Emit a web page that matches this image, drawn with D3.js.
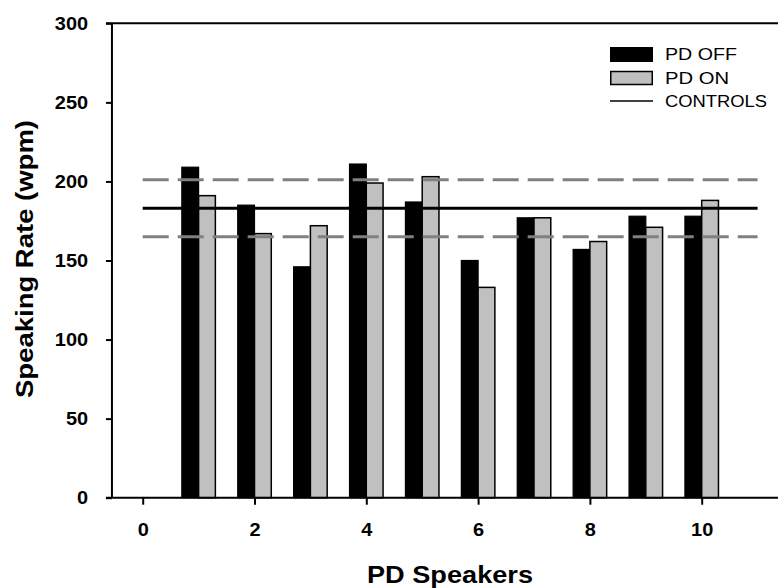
<!DOCTYPE html>
<html><head><meta charset="utf-8">
<script src="https://cdn.jsdelivr.net/npm/d3@7"></script>
<style>body{margin:0;background:#fff}svg{display:block}text{font-family:"Liberation Sans",Arial,sans-serif}</style>
</head><body>
<script>
const speakers = [1,2,3,4,5,6,7,8,9,10];
const pdOff = [209, 185, 146, 211, 187, 150, 177, 157, 178, 178];
const pdOn  = [191, 167, 172, 199, 203, 133, 177, 162, 171, 188];
const controlsMean = 183;
const controlsUpper = 201;
const controlsLower = 165;
const xTicks = [0,2,4,6,8,10];
const yTicks = [0,50,100,150,200,250,300];
const legendItems = ["PD OFF","PD ON","CONTROLS"];

const W = 778, H = 588;
const svg = d3.select("body").append("svg").attr("width", W).attr("height", H);
const x = d3.scaleLinear().domain([0,10]).range([142.7,701.7]);
const y = d3.scaleLinear().domain([0,300]).range([497.7,23.3]);
const barW = 0.3;
const xL = -0.55, xR = 11.4;

// bars
svg.append("g").selectAll("rect").data(speakers).join("rect")
  .attr("x", (d)=>x(d-barW)).attr("width", x(barW)-x(0))
  .attr("y", (d,i)=>y(pdOff[i])).attr("height", (d,i)=>y(0)-y(pdOff[i]))
  .attr("fill","#000").attr("stroke","#000").attr("stroke-width",1.2);
svg.append("g").selectAll("rect").data(speakers).join("rect")
  .attr("x", (d)=>x(d)).attr("width", x(barW)-x(0))
  .attr("y", (d,i)=>y(pdOn[i])).attr("height", (d,i)=>y(0)-y(pdOn[i]))
  .attr("fill","#c0c0c0").attr("stroke","#000").attr("stroke-width",1.5);

// control lines
svg.append("line").attr("x1",x(0)).attr("x2",x(11)).attr("y1",y(controlsMean)).attr("y2",y(controlsMean))
  .attr("stroke","#000").attr("stroke-width",3);
[controlsUpper, controlsLower].forEach(v=>{
  svg.append("line").attr("x1",x(0)).attr("x2",x(11)).attr("y1",y(v)).attr("y2",y(v))
    .attr("stroke","#808080").attr("stroke-width",3).attr("stroke-dasharray","26,9");
});

// axes
const yAxis = svg.append("g").attr("transform",`translate(${x(xL)},0)`)
  .call(d3.axisLeft(y).tickValues(yTicks).tickSize(6).tickPadding(16).tickFormat(d3.format("d")));
const xAxis = svg.append("g").attr("transform",`translate(0,${y(0)})`)
  .call(d3.axisBottom(x).tickValues(xTicks).tickSize(7).tickPadding(18).tickFormat(d3.format("d")));
[yAxis,xAxis].forEach(a=>{
  a.select(".domain").remove();
  a.selectAll(".tick line").attr("stroke","#000").attr("stroke-width",2);
  a.selectAll(".tick text").attr("fill","#000").style("font-size","18.5px").style("font-weight","bold");
});
yAxis.selectAll(".tick text").attr("transform","scale(1.08,1)");
xAxis.selectAll(".tick text").attr("transform","scale(1.08,1)");
svg.append("line").attr("x1",x(xL)).attr("x2",x(xL)).attr("y1",y(300)).attr("y2",y(0)).attr("stroke","#000").attr("stroke-width",2);
svg.append("line").attr("x1",x(xL)-6).attr("x2",x(xR)).attr("y1",y(0)).attr("y2",y(0)).attr("stroke","#000").attr("stroke-width",2);
svg.append("line").attr("x1",x(xL)-6).attr("x2",x(xR)).attr("y1",y(300)).attr("y2",y(300)).attr("stroke","#000").attr("stroke-width",2);

// axis titles
svg.append("text").attr("x",450).attr("y",583).attr("text-anchor","middle")
  .style("font-size","24px").style("font-weight","bold")
  .attr("textLength",166).attr("lengthAdjust","spacingAndGlyphs").text("PD Speakers");
svg.append("text").attr("transform","translate(33,259) rotate(-90)").attr("text-anchor","middle")
  .style("font-size","24px").style("font-weight","bold")
  .attr("textLength",278).attr("lengthAdjust","spacingAndGlyphs").text("Speaking Rate (wpm)");

// legend
const lg = svg.append("g");
lg.append("rect").attr("x",610).attr("y",47).attr("width",43).attr("height",15).attr("fill","#000");
lg.append("rect").attr("x",610.75).attr("y",71.5).attr("width",41.5).attr("height",13).attr("fill","#c0c0c0").attr("stroke","#000").attr("stroke-width",1.5);
lg.append("line").attr("x1",610).attr("x2",653).attr("y1",101).attr("y2",101).attr("stroke","#000").attr("stroke-width",1.5);
const lens = [72, 64, 102];
[60, 83.5, 107].forEach((yy,i)=>{
  lg.append("text").attr("x",665).attr("y",yy).style("font-size","16.3px").attr("fill","#000")
    .attr("textLength",lens[i]).attr("lengthAdjust","spacingAndGlyphs").text(legendItems[i]);
});
</script>
</body></html>
